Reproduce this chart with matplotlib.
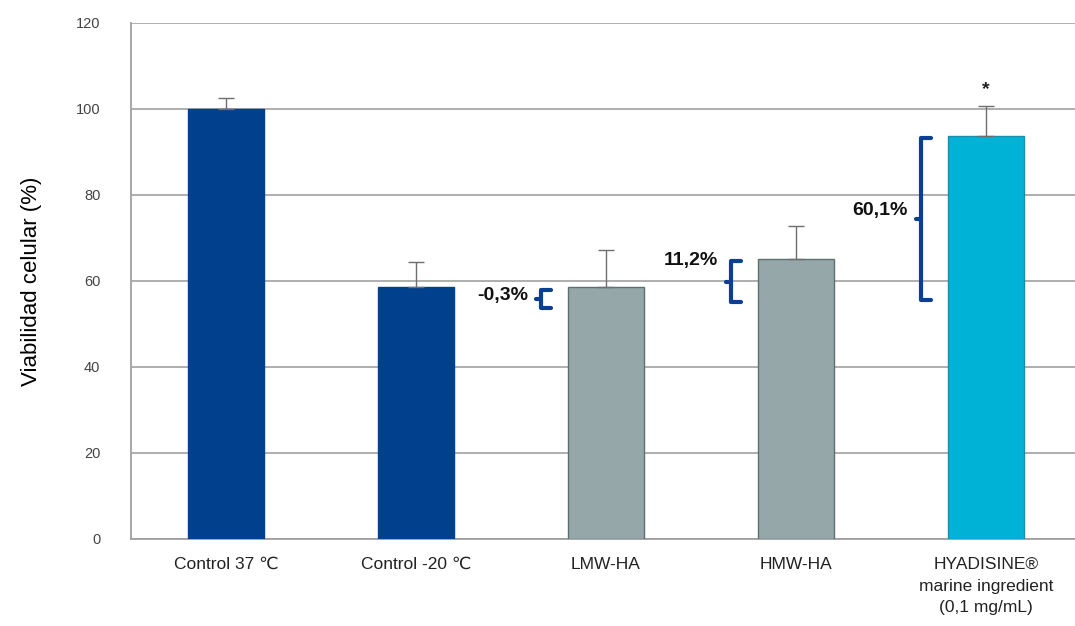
import numpy as np
import matplotlib.pyplot as plt

plt.rcParams['font.family'] = ['Liberation Sans', 'DejaVu Sans']

# data
categories = ['Control 37 \u2103', 'Control -20 \u2103', 'LMW-HA', 'HMW-HA',
              'HYADISINE\u00ae\nmarine ingredient\n(0,1 mg/mL)']
viability = [100.0, 58.6, 58.5, 65.1, 93.7]
err_upper = [2.6, 5.8, 8.7, 7.7, 7.0]
bar_colors = ['#00408C', '#00408C', '#95A7A8', '#95A7A8', '#00B2D6']
edge_colors = ['#00408C', '#00408C', '#5F6F70', '#5F6F70', '#1A8FA8']

# change labels with the brace ranges (low, high) in axis units
change_labels = ['-0,3%', '11,2%', '60,1%']
brace_idx = [2, 3, 4]
brace_lo = [53.7, 55.1, 55.6]
brace_hi = [57.9, 64.6, 93.3]
label_y = [56.6, 64.8, 76.5]

fig = plt.figure(figsize=(10.75, 6.26), dpi=100)
ax = fig.add_axes([131/1075, 1-539/626, 950/1075, 516/626])

x = np.arange(len(categories))
ax.bar(x, viability, width=0.405, color=bar_colors, edgecolor=edge_colors,
       linewidth=1, zorder=3)
ax.errorbar(x, viability, yerr=[np.zeros(len(x)), err_upper], fmt='none',
            ecolor='#6E6E6E', elinewidth=1, capsize=6, capthick=1, zorder=4)

ax.set_xlim(-0.5, 4.5)
ax.set_ylim(0, 120)
ax.set_yticks(np.arange(0, 121, 20))
ax.grid(axis='y', color='#A8A8A8', linewidth=1.3, zorder=0)
ax.set_axisbelow(True)
for s in ['top', 'right']:
    ax.spines[s].set_visible(False)
ax.spines['left'].set_color('#A0A0A0')
ax.spines['bottom'].set_color('#A0A0A0')
ax.spines['left'].set_linewidth(1.3)
ax.spines['bottom'].set_linewidth(1.3)
ax.tick_params(axis='y', length=0, pad=22, labelsize=10.5, labelcolor='#444444')
ax.tick_params(axis='x', length=0, pad=13, labelsize=12.5, labelcolor='#222222')
ax.set_xticks(x)
ax.set_xticklabels(categories, linespacing=1.55, va='top')
ax.set_ylabel('Viabilidad celular (%)', fontsize=16, labelpad=24)

# braces
blue = '#0B3F91'
for lab, i, lo, hi, ty in zip(change_labels, brace_idx, brace_lo, brace_hi, label_y):
    xr = i - 0.29
    xl = xr - 0.05
    mid = (lo + hi) / 2
    ax.plot([xr, xl, xl, xr], [hi, hi, lo, lo], color=blue, lw=3,
            solid_joinstyle='round', solid_capstyle='round', zorder=5)
    ax.plot([xl, xl - 0.03], [mid, mid], color=blue, lw=3,
            solid_capstyle='round', zorder=5)
    ax.text(xl - 0.07, ty, lab, ha='right', va='center', fontsize=14,
            fontweight='bold', color='#111111', zorder=6)

ax.text(4, 104.5, '*', ha='center', va='center', fontsize=14,
        fontweight='bold', color='#222222')

fig.savefig('out.png', dpi=100)
